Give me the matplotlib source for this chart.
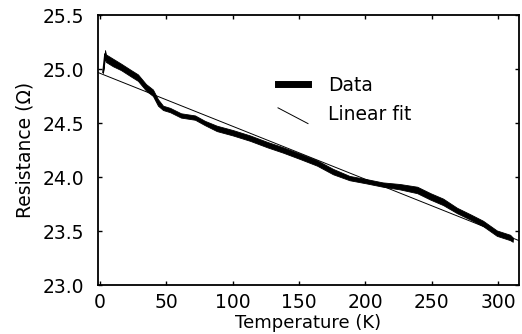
#!/usr/bin/env python3
# Resistance vs temperature with a linear fit (recreated from a scanned figure)

import numpy as np
import matplotlib
matplotlib.use('Agg')
import matplotlib.pyplot as plt
from matplotlib.lines import Line2D
from matplotlib.legend_handler import HandlerLine2D

temp_K = [2.3, 3.8, 4.5, 9.8, 15.8, 23.4, 28.6, 34.7, 39.9, 43.7, 47.5, 52.8,
          61.0, 71.6, 79.0, 88.0, 100.0, 113.0, 126.0, 138.0, 151.0, 163.5,
          175.6, 188.0, 201.0, 213.0, 226.0, 239.0, 249.0, 258.5, 269.0,
          279.0, 288.6, 299.0, 309.0, 311.0]
resist_ohm = [24.97, 25.14, 25.10, 25.06, 25.02, 24.96, 24.92, 24.83, 24.78,
              24.69, 24.64, 24.62, 24.57, 24.55, 24.50, 24.45, 24.41, 24.36,
              24.30, 24.25, 24.19, 24.13, 24.05, 23.99, 23.96, 23.93, 23.91,
              23.88, 23.82, 23.77, 23.69, 23.63, 23.57, 23.48, 23.44, 23.42]
# half width of the noisy band around the centre line
noise_ohm = [0.005, 0.035, 0.035, 0.035, 0.03, 0.03, 0.03, 0.03, 0.03, 0.03,
             0.02, 0.02, 0.02, 0.02, 0.02, 0.025, 0.025, 0.025, 0.025, 0.025,
             0.025, 0.025, 0.025, 0.02, 0.02, 0.02, 0.025, 0.03, 0.03,
             0.03, 0.025, 0.025, 0.025, 0.025, 0.025, 0.02]

# linear fit end points
fit_temp_K = [-2.0, 320.0]
fit_resist_ohm = [24.97, 23.39]

x_ticks = [0, 50, 100, 150, 200, 250, 300]
y_ticks = [23.0, 23.5, 24.0, 24.5, 25.0, 25.5]


class SlantedLineHandler(HandlerLine2D):
    """legend handle drawn as a short descending line"""
    def create_artists(self, legend, orig_handle, xdescent, ydescent,
                       width, height, fontsize, trans):
        line = Line2D([-xdescent, width - xdescent],
                      [height * 0.95 - ydescent, -height * 0.25 - ydescent],
                      color=orig_handle.get_color(),
                      linewidth=orig_handle.get_linewidth(), transform=trans)
        return [line]


plt.rcParams['font.family'] = ['DejaVu Sans']
plt.rcParams['font.size'] = 13.5

fig = plt.figure(figsize=(5.22, 3.34), dpi=100)
ax = fig.add_axes([98 / 522, 49 / 334, 421 / 522, 270 / 334])

t = np.asarray(temp_K)
r = np.asarray(resist_ohm)
n = np.asarray(noise_ohm)

ax.fill_between(t, r - n, r + n, color='black', linewidth=0.6, edgecolor='black')
data_line, = ax.plot(t, r, color='black', linewidth=1.2)
fit_line, = ax.plot(fit_temp_K, fit_resist_ohm, color='black', linewidth=0.7)

ax.set_xlim(-1.5, 315.7)
ax.set_ylim(23.0, 25.5)
ax.set_xticks(x_ticks)
ax.set_yticks(y_ticks)
ax.set_yticklabels(['%.1f' % v for v in y_ticks])
ax.tick_params(direction='in', length=3, width=1.0, top=True, right=True,
               labelsize=13.5)
ax.tick_params(axis='x', pad=6)
ax.tick_params(axis='y', pad=10)
for sp in ax.spines.values():
    sp.set_linewidth(1.3)

ax.set_xlabel('Temperature (K)', labelpad=1.5, fontsize=13)
ax.set_ylabel('Resistance (\u03a9)', labelpad=6)

data_handle = Line2D([], [], color='black', linewidth=5)
fit_handle = Line2D([], [], color='black', linewidth=0.7)
ax.legend([data_handle, fit_handle], ['Data', 'Linear fit'],
          handler_map={fit_handle: SlantedLineHandler()},
          loc='upper left', bbox_to_anchor=((278 - 98) / 421, (285 - 76) / 270),
          frameon=False, borderpad=0, borderaxespad=0, handlelength=1.6,
          handletextpad=1.05, labelspacing=0.55, fontsize=13.5)

fig.savefig('out.png', dpi=100)
